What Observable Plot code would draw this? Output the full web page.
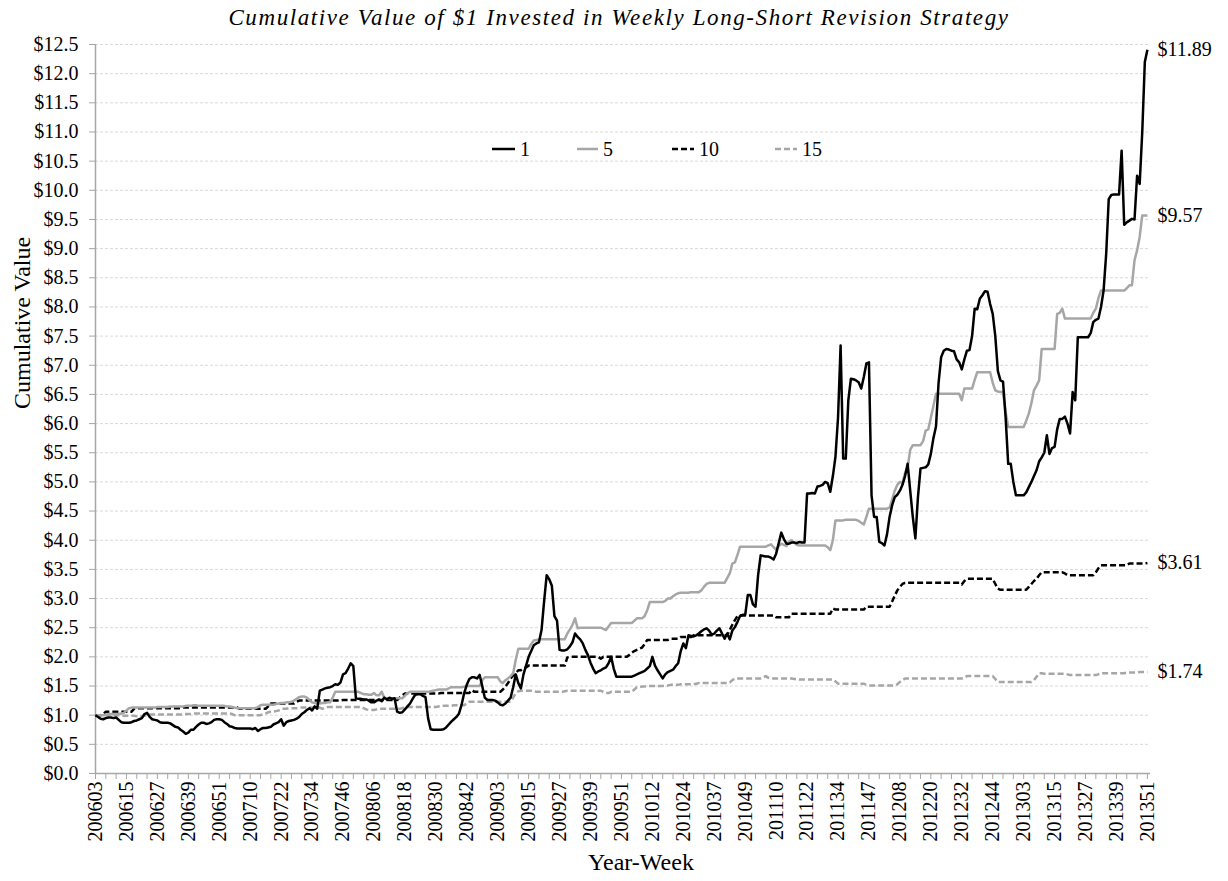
<!DOCTYPE html>
<html>
<head>
<meta charset="utf-8">
<script src="https://cdn.jsdelivr.net/npm/d3@7"></script>
<script src="https://cdn.jsdelivr.net/npm/@observablehq/plot@0.6"></script>
<style>
  body { margin: 0; background: #fff; font-family: "Liberation Serif", serif; }
  #wrap { position: relative; width: 1228px; height: 881px; }
  #title { height: 36px; line-height: 36px; text-align: center; font-style: italic; font-size: 23px; letter-spacing: 1.6px; padding-left: 10px; color: #000; font-family: "Liberation Serif", serif; }
  #legend { position: absolute; left: 0; top: 0; width: 1228px; height: 0; }
  .li { position: absolute; top: 137px; height: 24px; display: flex; align-items: center; font-size: 20px; font-family: "Liberation Serif", serif; }
  .li svg { margin-right: 5px; }
  #chart svg text { font-family: "Liberation Serif", serif; }
</style>
</head>
<body>
<div id="wrap">
  <div id="title">Cumulative Value of $1 Invested in Weekly Long-Short Revision Strategy</div>
  <div id="chart"></div>
  <div id="legend"></div>
</div>
<script>
// X-axis tick labels (Year-Week), one every 12 weekly observations
const weekLabels = ["200603","200615","200627","200639","200651","200710","200722","200734","200746","200806","200818","200830","200842","200903","200915","200927","200939","200951","201012","201024","201037","201049","201110","201122","201134","201147","201208","201220","201232","201244","201303","201315","201327","201339","201351"];

const seriesNames = ["1", "5", "10", "15"];
const endLabels = ["$11.89", "$9.57", "$3.61", "$1.74"];

// Series "1" – cumulative value, weekly
const s1 = [
1.00,0.97,0.94,0.93,0.95,0.96,0.96,0.95,0.96,0.92,0.88,0.87,
0.87,0.87,0.88,0.90,0.91,0.93,0.95,1.02,1.04,0.97,0.93,0.92,
0.91,0.88,0.87,0.87,0.87,0.86,0.83,0.80,0.79,0.75,0.72,0.68,
0.70,0.75,0.75,0.80,0.84,0.87,0.87,0.85,0.86,0.88,0.92,0.93,
0.93,0.92,0.88,0.85,0.81,0.80,0.78,0.77,0.77,0.77,0.77,0.77,
0.77,0.76,0.78,0.73,0.76,0.78,0.78,0.79,0.80,0.84,0.86,0.88,
0.93,0.82,0.88,0.90,0.91,0.92,0.94,0.97,1.02,1.05,1.09,1.12,
1.08,1.15,1.11,1.42,1.44,1.46,1.47,1.48,1.50,1.53,1.52,1.56,
1.70,1.72,1.80,1.89,1.84,1.29,1.28,1.28,1.27,1.27,1.25,1.22,
1.22,1.25,1.27,1.24,1.30,1.27,1.30,1.28,1.29,1.06,1.04,1.05,
1.10,1.15,1.20,1.28,1.35,1.36,1.36,1.33,1.31,0.95,0.76,0.75,
0.75,0.75,0.75,0.76,0.79,0.84,0.89,0.93,0.97,1.03,1.18,1.38,
1.52,1.62,1.65,1.65,1.63,1.69,1.50,1.30,1.26,1.26,1.26,1.25,
1.22,1.18,1.17,1.20,1.25,1.30,1.48,1.70,1.55,1.46,1.70,1.85,
2.00,2.10,2.20,2.23,2.25,2.46,2.95,3.40,3.33,3.22,2.70,2.62,
2.12,2.11,2.11,2.13,2.18,2.25,2.40,2.34,2.30,2.23,2.12,2.03,
1.90,1.80,1.72,1.75,1.77,1.80,1.82,1.89,2.00,1.80,1.66,1.66,
1.66,1.66,1.66,1.66,1.66,1.68,1.70,1.72,1.74,1.76,1.80,1.84,
2.00,1.85,1.77,1.70,1.63,1.70,1.74,1.76,1.78,1.84,1.89,2.10,
2.23,2.15,2.37,2.36,2.35,2.37,2.40,2.44,2.47,2.49,2.45,2.38,
2.40,2.45,2.49,2.40,2.31,2.40,2.30,2.45,2.51,2.60,2.70,2.72,
2.72,3.06,3.06,2.90,2.86,3.40,3.74,3.73,3.72,3.72,3.70,3.67,
3.77,3.95,4.13,4.02,3.94,3.94,3.96,3.96,3.95,3.97,3.96,3.96,
4.80,4.80,4.81,4.80,4.92,4.93,4.95,5.00,4.98,4.83,5.10,5.43,
6.10,7.34,5.40,5.40,6.40,6.77,6.76,6.74,6.71,6.60,6.80,7.03,
7.05,4.77,4.40,4.40,3.97,3.95,3.91,4.10,4.40,4.60,4.74,4.78,
4.85,4.95,5.10,5.31,4.85,4.40,4.03,4.74,5.23,5.24,5.25,5.30,
5.48,5.75,5.95,6.70,7.14,7.25,7.28,7.27,7.25,7.24,7.10,7.05,
6.93,7.10,7.25,7.26,7.50,7.97,7.96,8.14,8.20,8.27,8.26,8.05,
7.88,7.50,6.90,6.74,6.72,6.11,5.31,5.31,5.00,4.77,4.77,4.77,
4.77,4.82,4.91,5.00,5.10,5.20,5.35,5.42,5.50,5.80,5.48,5.58,
5.60,5.90,6.08,6.08,6.12,6.00,5.83,6.54,6.40,7.48,7.48,7.48,
7.48,7.48,7.55,7.74,7.78,7.80,8.00,8.28,8.90,9.85,9.92,9.93,
9.93,9.93,10.68,9.41,9.45,9.48,9.51,9.50,10.25,10.11,11.00,12.20,
12.41];

// Series "5"
const s5 = [
1.00,1.00,1.00,1.00,1.01,1.02,1.02,1.02,1.02,1.02,1.03,1.04,
1.08,1.12,1.13,1.13,1.13,1.13,1.13,1.13,1.13,1.13,1.13,1.13,
1.14,1.14,1.14,1.14,1.14,1.15,1.15,1.15,1.15,1.15,1.15,1.16,
1.16,1.16,1.17,1.17,1.16,1.16,1.16,1.16,1.16,1.16,1.16,1.16,
1.16,1.16,1.16,1.15,1.15,1.14,1.13,1.12,1.12,1.12,1.12,1.12,
1.12,1.12,1.12,1.14,1.17,1.18,1.18,1.18,1.18,1.18,1.19,1.20,
1.21,1.21,1.22,1.22,1.23,1.25,1.28,1.31,1.32,1.32,1.30,1.26,
1.22,1.21,1.20,1.20,1.21,1.21,1.22,1.22,1.30,1.40,1.40,1.40,
1.40,1.40,1.40,1.40,1.40,1.40,1.40,1.38,1.36,1.36,1.35,1.35,
1.38,1.34,1.34,1.40,1.30,1.29,1.29,1.29,1.29,1.29,1.29,1.29,
1.33,1.38,1.40,1.40,1.40,1.40,1.40,1.40,1.40,1.40,1.41,1.42,
1.43,1.44,1.44,1.44,1.44,1.46,1.48,1.48,1.48,1.48,1.48,1.49,
1.50,1.50,1.50,1.50,1.50,1.50,1.60,1.65,1.65,1.65,1.65,1.65,
1.65,1.58,1.55,1.60,1.63,1.67,1.72,1.95,2.14,2.14,2.14,2.14,
2.14,2.22,2.28,2.29,2.30,2.30,2.30,2.30,2.30,2.30,2.30,2.30,
2.30,2.30,2.30,2.40,2.47,2.55,2.66,2.49,2.50,2.50,2.50,2.50,
2.50,2.50,2.50,2.50,2.50,2.48,2.46,2.52,2.58,2.58,2.58,2.58,
2.58,2.58,2.58,2.58,2.58,2.62,2.66,2.66,2.66,2.70,2.80,2.94,
2.94,2.94,2.94,2.94,2.94,2.96,3.00,3.00,3.04,3.07,3.09,3.10,
3.10,3.10,3.10,3.11,3.11,3.11,3.11,3.14,3.20,3.25,3.27,3.27,
3.27,3.27,3.27,3.27,3.27,3.35,3.43,3.60,3.62,3.75,3.89,3.89,
3.89,3.89,3.89,3.89,3.89,3.89,3.89,3.89,3.89,3.91,3.93,3.88,
3.84,3.90,3.94,3.92,3.90,3.98,4.00,3.96,3.92,3.91,3.91,3.91,
3.91,3.91,3.91,3.91,3.91,3.91,3.91,3.91,3.88,3.83,4.00,4.34,
4.34,4.34,4.34,4.35,4.35,4.35,4.35,4.35,4.33,4.30,4.27,4.40,
4.54,4.54,4.54,4.54,4.54,4.54,4.54,4.54,4.56,4.70,4.85,4.95,
5.00,4.98,5.15,5.25,5.55,5.63,5.63,5.63,5.63,5.70,5.88,5.90,
6.10,6.30,6.51,6.51,6.51,6.51,6.51,6.51,6.51,6.51,6.51,6.51,
6.40,6.60,6.60,6.60,6.60,6.75,6.88,6.88,6.88,6.88,6.88,6.88,
6.70,6.57,6.55,6.54,6.54,6.20,5.94,5.94,5.94,5.94,5.94,5.94,
5.94,6.05,6.17,6.35,6.57,6.65,6.74,7.28,7.28,7.28,7.28,7.28,
7.28,7.88,7.90,7.97,7.80,7.80,7.80,7.80,7.80,7.80,7.80,7.80,
7.80,7.80,7.80,7.90,7.97,8.15,8.28,8.28,8.28,8.28,8.28,8.28,
8.28,8.28,8.28,8.28,8.32,8.37,8.37,8.80,8.97,9.20,9.57,9.57,
9.57];

// Series "10"
const s10 = [
1.00,1.00,1.00,1.02,1.06,1.06,1.06,1.06,1.06,1.06,1.06,1.06,
1.06,1.06,1.06,1.11,1.12,1.12,1.12,1.12,1.12,1.12,1.12,1.12,
1.12,1.12,1.12,1.12,1.12,1.12,1.12,1.12,1.12,1.12,1.13,1.13,
1.13,1.13,1.13,1.13,1.13,1.13,1.13,1.13,1.13,1.13,1.13,1.13,
1.13,1.13,1.13,1.13,1.13,1.13,1.13,1.13,1.11,1.11,1.11,1.11,
1.11,1.11,1.11,1.11,1.11,1.11,1.11,1.15,1.20,1.20,1.20,1.20,
1.20,1.20,1.20,1.20,1.20,1.20,1.23,1.25,1.25,1.25,1.25,1.25,
1.25,1.25,1.25,1.25,1.25,1.25,1.25,1.25,1.25,1.25,1.25,1.25,
1.26,1.26,1.26,1.26,1.26,1.26,1.26,1.26,1.26,1.26,1.26,1.26,
1.26,1.26,1.26,1.26,1.26,1.26,1.26,1.26,1.26,1.26,1.30,1.34,
1.37,1.37,1.37,1.37,1.37,1.37,1.37,1.37,1.37,1.37,1.37,1.37,
1.37,1.37,1.38,1.38,1.38,1.38,1.38,1.38,1.38,1.38,1.38,1.38,
1.38,1.38,1.43,1.40,1.40,1.40,1.40,1.40,1.40,1.40,1.40,1.40,
1.40,1.40,1.44,1.49,1.55,1.63,1.68,1.72,1.77,1.77,1.80,1.82,
1.85,1.85,1.85,1.85,1.85,1.85,1.85,1.85,1.85,1.85,1.85,1.85,
1.85,1.85,1.85,1.99,2.00,2.00,2.00,2.00,2.00,2.00,2.00,2.00,
2.00,2.00,2.00,2.00,1.97,2.00,2.00,2.00,2.00,2.00,2.00,2.00,
2.00,2.00,2.00,2.03,2.07,2.10,2.12,2.14,2.16,2.22,2.29,2.29,
2.29,2.29,2.29,2.29,2.29,2.29,2.29,2.31,2.31,2.31,2.31,2.34,
2.34,2.34,2.34,2.34,2.37,2.37,2.37,2.37,2.37,2.37,2.37,2.37,
2.37,2.37,2.37,2.37,2.37,2.37,2.46,2.55,2.63,2.70,2.71,2.71,
2.71,2.71,2.71,2.71,2.71,2.71,2.71,2.71,2.71,2.71,2.71,2.71,
2.68,2.68,2.68,2.68,2.68,2.68,2.74,2.74,2.74,2.74,2.74,2.74,
2.74,2.74,2.74,2.74,2.74,2.74,2.74,2.74,2.74,2.74,2.83,2.81,
2.81,2.81,2.81,2.81,2.81,2.81,2.81,2.81,2.81,2.81,2.81,2.86,
2.86,2.86,2.86,2.86,2.86,2.86,2.86,2.86,2.86,2.95,3.05,3.14,
3.20,3.25,3.27,3.27,3.27,3.27,3.27,3.27,3.27,3.27,3.27,3.27,
3.27,3.27,3.27,3.27,3.27,3.27,3.27,3.27,3.27,3.27,3.27,3.27,
3.24,3.30,3.34,3.34,3.34,3.34,3.34,3.34,3.34,3.34,3.34,3.34,
3.34,3.25,3.17,3.15,3.15,3.15,3.15,3.15,3.15,3.15,3.15,3.15,
3.15,3.15,3.20,3.25,3.30,3.34,3.40,3.45,3.45,3.45,3.45,3.45,
3.45,3.45,3.45,3.45,3.43,3.40,3.40,3.40,3.40,3.40,3.40,3.40,
3.40,3.40,3.40,3.40,3.45,3.52,3.57,3.57,3.57,3.57,3.57,3.57,
3.57,3.57,3.57,3.57,3.57,3.60,3.60,3.60,3.60,3.60,3.60,3.60,
3.61];

// Series "15"
const s15 = [
1.00,1.00,1.00,1.00,1.00,1.00,1.00,1.00,1.00,1.00,1.00,0.99,
0.99,0.99,0.99,0.99,0.98,0.98,0.98,0.99,1.01,1.01,1.01,1.01,
1.01,1.01,1.01,1.01,1.01,1.01,1.01,1.01,1.01,1.01,1.02,1.02,
1.02,1.02,1.03,1.03,1.03,1.03,1.03,1.03,1.03,1.03,1.03,1.03,
1.03,1.03,1.03,1.03,1.03,1.02,1.00,1.00,1.00,1.00,1.00,1.00,
1.00,1.00,1.00,1.00,1.00,1.02,1.03,1.05,1.06,1.06,1.07,1.08,
1.10,1.11,1.11,1.12,1.12,1.12,1.12,1.13,1.13,1.13,1.13,1.13,
1.13,1.13,1.13,1.13,1.11,1.13,1.14,1.14,1.14,1.14,1.14,1.14,
1.14,1.14,1.14,1.14,1.14,1.14,1.14,1.14,1.12,1.10,1.09,1.09,
1.09,1.10,1.11,1.11,1.11,1.11,1.11,1.11,1.11,1.11,1.11,1.12,
1.14,1.14,1.14,1.14,1.14,1.14,1.14,1.14,1.14,1.14,1.14,1.14,
1.14,1.15,1.16,1.16,1.16,1.16,1.16,1.17,1.17,1.17,1.17,1.17,
1.20,1.23,1.23,1.23,1.23,1.23,1.23,1.23,1.23,1.23,1.23,1.23,
1.23,1.23,1.23,1.23,1.23,1.23,1.30,1.38,1.41,1.42,1.42,1.42,
1.42,1.42,1.41,1.40,1.40,1.40,1.40,1.40,1.40,1.40,1.40,1.40,
1.40,1.40,1.41,1.42,1.42,1.42,1.42,1.42,1.42,1.42,1.42,1.42,
1.42,1.42,1.42,1.42,1.42,1.40,1.38,1.38,1.40,1.40,1.40,1.40,
1.40,1.40,1.40,1.40,1.40,1.44,1.48,1.48,1.49,1.49,1.50,1.50,
1.50,1.50,1.50,1.50,1.50,1.51,1.51,1.52,1.52,1.52,1.52,1.53,
1.53,1.53,1.53,1.53,1.53,1.54,1.55,1.55,1.55,1.55,1.55,1.55,
1.55,1.55,1.55,1.55,1.55,1.55,1.56,1.60,1.63,1.63,1.63,1.63,
1.63,1.63,1.63,1.63,1.63,1.63,1.63,1.65,1.67,1.64,1.63,1.63,
1.63,1.63,1.63,1.63,1.63,1.63,1.63,1.62,1.62,1.61,1.61,1.61,
1.61,1.61,1.61,1.61,1.61,1.61,1.61,1.61,1.61,1.61,1.61,1.58,
1.54,1.54,1.54,1.54,1.54,1.54,1.54,1.54,1.54,1.54,1.54,1.52,
1.51,1.51,1.51,1.51,1.51,1.51,1.51,1.51,1.51,1.51,1.51,1.53,
1.57,1.60,1.63,1.63,1.63,1.63,1.63,1.63,1.63,1.63,1.63,1.63,
1.63,1.63,1.63,1.63,1.63,1.63,1.63,1.63,1.63,1.63,1.63,1.63,
1.63,1.64,1.67,1.67,1.67,1.67,1.67,1.67,1.67,1.67,1.67,1.67,
1.67,1.62,1.57,1.57,1.57,1.57,1.57,1.57,1.57,1.57,1.57,1.57,
1.57,1.57,1.57,1.57,1.60,1.66,1.72,1.72,1.71,1.71,1.71,1.71,
1.71,1.71,1.71,1.71,1.71,1.70,1.69,1.69,1.69,1.69,1.69,1.69,
1.69,1.69,1.69,1.69,1.69,1.70,1.72,1.72,1.72,1.72,1.72,1.72,
1.72,1.72,1.72,1.72,1.73,1.73,1.73,1.73,1.73,1.74,1.74,1.74,
1.74];

const BLACK = "#000000";
const GRAY = "#a6a6a6";
const SERIF = "Liberation Serif, serif";
const seriesData = [s1, s5, s10, s15];
const seriesStroke = [BLACK, GRAY, BLACK, GRAY];
const seriesDash = [null, null, "6,3", "6,3"];

const labelIdx = weekLabels.map((_, k) => k * 12);
const minorTicks = d3.range(0, s1.length, 4);
const yTicks = d3.range(0, 12.51, 0.5);

const endData = seriesData.map((s, k) => ({x: s.length - 1, y: s[s.length - 1], label: endLabels[k]}));

const lineMarks = [3, 2, 1, 0].map(k =>
  Plot.lineY(seriesData[k], {
    stroke: seriesStroke[k], strokeWidth: 2.5,
    strokeDasharray: seriesDash[k] || undefined,
    strokeLinejoin: "round", strokeLinecap: "butt"
  })
);

const chart = Plot.plot({
  width: 1228,
  height: 845,
  marginTop: 8,
  marginBottom: 108,
  marginLeft: 95,
  marginRight: 78,
  style: {fontFamily: SERIF, fontSize: "20px", color: "#000", background: "transparent", overflow: "visible"},
  x: {domain: [0, 409.2], axis: null},
  y: {domain: [0, 12.5], axis: null},
  marks: [
    Plot.ruleY(yTicks.filter(d => d > 0), {stroke: "#d9d9d9", strokeWidth: 1, strokeDasharray: "3,2"}),
    Plot.axisY({ticks: yTicks, tickSize: 6, tickPadding: 11, tickFormat: d => "$" + d.toFixed(1), stroke: GRAY, label: null, fontSize: 20, fontFamily: SERIF}),
    Plot.axisX({ticks: minorTicks, tickSize: 6, tickFormat: () => "", stroke: GRAY, label: null}),
    Plot.axisX({ticks: labelIdx, tickSize: 0, tickPadding: 8, tickRotate: -90, tickFormat: i => weekLabels[Math.round(i / 12)], label: null, fontSize: 20, fontFamily: SERIF}),
    Plot.ruleX([0], {stroke: GRAY, strokeWidth: 1.5}),
    Plot.ruleY([0], {stroke: GRAY, strokeWidth: 1.5}),
    ...lineMarks,
    Plot.text(endData, {x: "x", y: "y", text: "label", dx: 10, textAnchor: "start", fontSize: 20, fill: BLACK, fontFamily: SERIF}),
    Plot.text(["Cumulative Value"], {frameAnchor: "left", dx: -73, rotate: -90, fontSize: 24, fill: BLACK, fontFamily: SERIF}),
    Plot.text(["Year-Week"], {frameAnchor: "bottom", dy: 96, dx: 18, fontSize: 24, fill: BLACK, fontFamily: SERIF})
  ]
});
document.getElementById("chart").appendChild(chart);

// Legend
const legendPos = [{line: 492, w: 23}, {line: 577, w: 21}, {line: 672, w: 22}, {line: 775, w: 22}];
const legend = document.getElementById("legend");
seriesNames.forEach((name, k) => {
  const item = document.createElement("div");
  item.className = "li";
  item.style.left = legendPos[k].line + "px";
  const w = legendPos[k].w;
  item.innerHTML = `<svg width="${w}" height="6"><line x1="0" y1="3" x2="${w}" y2="3" stroke="${seriesStroke[k]}" stroke-width="2.5" ${seriesDash[k] ? `stroke-dasharray="${seriesDash[k]}"` : ""}/></svg><span>${name}</span>`;
  legend.appendChild(item);
});
</script>
</body>
</html>
